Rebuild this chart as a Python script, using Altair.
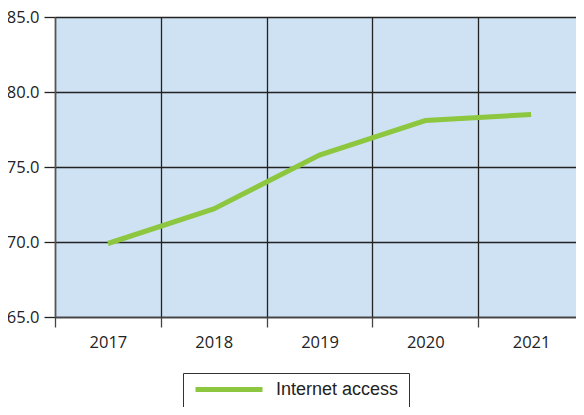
import altair as alt
import pandas as pd

years = ["2017", "2018", "2019", "2020", "2021"]
values = [69.9, 72.2, 75.8, 78.1, 78.5]
series = ["Internet access"] * len(years)

df = pd.DataFrame({"year": years, "value": values, "series": series})

line = alt.Chart(df).mark_line(strokeWidth=5, strokeCap="butt").encode(
    x=alt.X("year:N", sort=years, title=None,
            scale=alt.Scale(paddingInner=0, paddingOuter=0),
            axis=alt.Axis(labelAngle=0, tickBand="extent", grid=True,
                          gridColor="#222222", gridWidth=1.3,
                          tickColor="#444444", tickWidth=1.3, tickSize=10,
                          domainColor="#444444", domainWidth=1.5,
                          labelFont="Open Sans", labelFontSize=16.5,
                          labelColor="#222222", labelPadding=7)),
    y=alt.Y("value:Q", title=None,
            scale=alt.Scale(domain=[65, 85], nice=False, zero=False),
            axis=alt.Axis(values=[65, 70, 75, 80, 85], format=".1f",
                          grid=True, gridColor="#222222", gridWidth=1.3,
                          tickColor="#222222", tickWidth=1.3, tickSize=11,
                          domainColor="#555555", domainWidth=1.5,
                          labelFont="Open Sans", labelFontSize=16.5,
                          labelColor="#222222", labelPadding=5)),
    color=alt.Color("series:N", title=None,
                    scale=alt.Scale(range=["#8dc63f"]),
                    legend=alt.Legend(orient="none", legendX=128, legendY=356,
                                      symbolType="stroke", symbolSize=4489,
                                      symbolStrokeWidth=5, padding=10,
                                      clipHeight=13,
                                      strokeColor="#333333",
                                      labelFont="Liberation Sans",
                                      labelFontSize=18, labelColor="#222222",
                                      labelOffset=11, rowPadding=0)),
).properties(
    width=529, height=300,
    autosize=alt.AutoSizeParams(type="none"),
    padding={"left": 47, "top": 9, "right": -8, "bottom": 90},
).configure_view(fill="#cfe2f3", stroke=None)

line.save("out.html", embed_options={"renderer": "svg", "actions": False})
